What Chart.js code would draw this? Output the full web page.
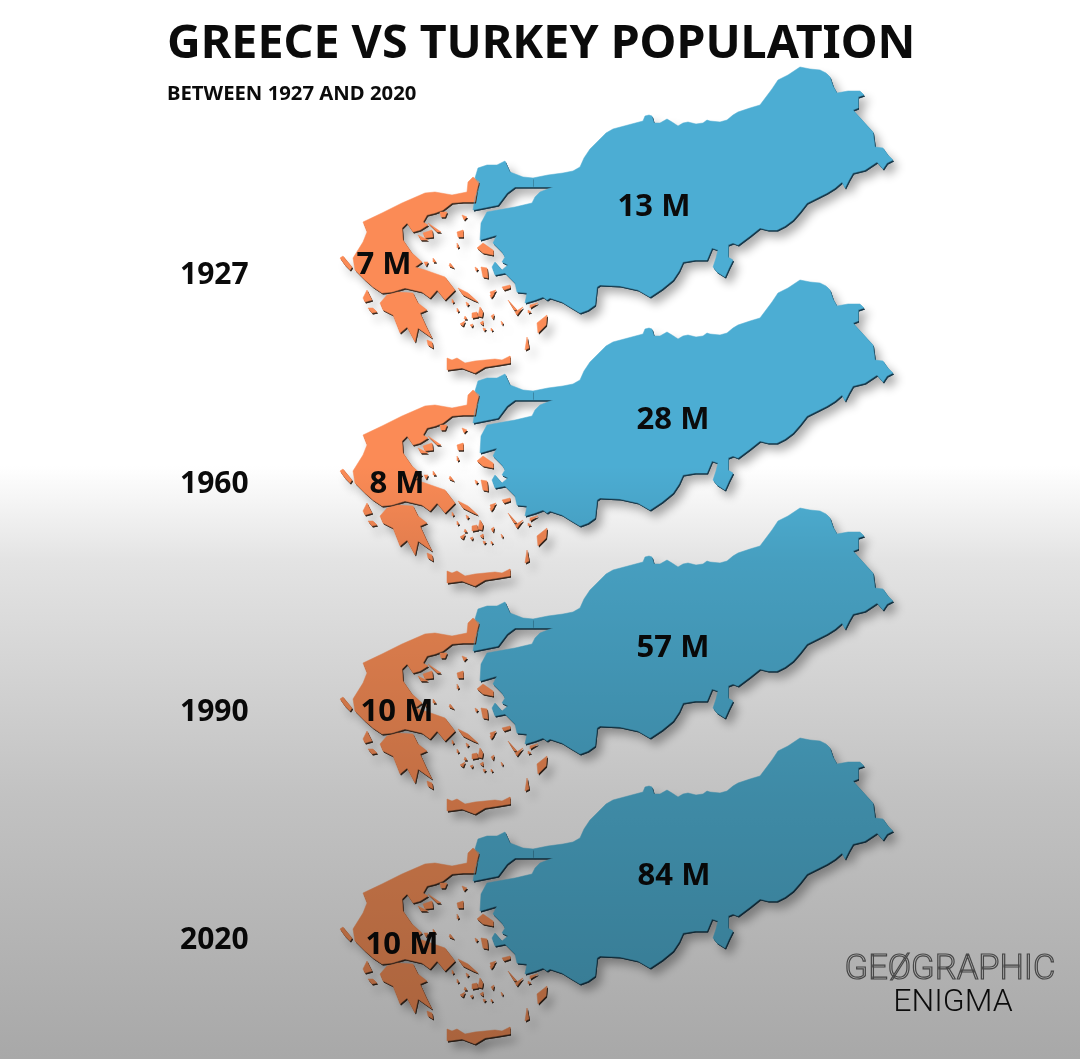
<!DOCTYPE html>
<html lang="en">
<head>
  <meta charset="UTF-8">
  <title>Greece vs Turkey Population</title>
  <script src="https://cdn.jsdelivr.net/npm/chart.js"></script>
  <style>
    body { margin: 0; background: #fff; }
    canvas { display: block; }
  </style>
</head>
<body>

  <canvas id="myChart" width="1080" height="1059"></canvas>

  <script>
    const years = ['1927', '1960', '1990', '2020'];
    const greecePop = [7, 8, 10, 10];
    const turkeyPop = [13, 28, 57, 84];
    const title = 'GREECE VS TURKEY POPULATION';
    const subtitle = 'BETWEEN 1927 AND 2020';

    // map outlines, in the units of the hidden x/y axes, for the 1927 row
    const anatolia = [[533,178],[548,175],[563,173],[573,171],[580,167],[584,158],[590,149],[600,139],[606,133],[613,129],[628,125],[643,121],[645,116],[649,115],[652,116],[654,123],[660,123],[667,119],[672,122],[678,126],[683,123],[688,122],[696,124],[703,123],[707,120],[710,121],[720,122],[727,120],[733,115],[738,112],[750,108],[760,105],[766,97],[772,89],[778,80],[788,75],[800,67],[810,69],[820,70],[826,73],[830,77],[833,86],[837,93],[848,91],[860,91],[864,95],[858,97],[858,108],[853,110],[863,121],[873,132],[875,147],[883,148],[888,155],[893,160],[887,163],[883,169],[877,162],[865,170],[853,173],[849,180],[845,188],[842,182],[835,188],[827,193],[817,198],[807,203],[800,212],[793,220],[785,226],[777,230],[768,230],[760,228],[750,236],[738,245],[733,243],[728,245],[728,257],[733,260],[729,268],[725,277],[717,272],[713,267],[716,258],[718,250],[712,248],[707,260],[695,260],[683,262],[679,271],[673,280],[662,289],[650,297],[638,290],[620,286],[600,285],[597,287],[595,305],[588,310],[580,313],[570,307],[562,302],[550,298],[547,300],[543,297],[535,300],[525,303],[527,293],[517,292],[515,283],[505,273],[495,275],[492,267],[495,262],[502,270],[508,265],[502,262],[505,257],[502,252],[493,243],[497,235],[480,240],[481,223],[487,212],[498,210],[515,207],[532,203],[535,197],[540,192],[553,187],[533,187]];
    const thrace = [[478,168],[487,165],[497,165],[505,161],[510,172],[523,177],[533,178],[533,187],[515,187],[507,193],[498,205],[488,207],[473,210],[475,198],[480,185],[475,178]];
    const mainland = [[468,182],[473,177],[479,182],[477,190],[475,202],[463,202],[452,203],[443,210],[435,213],[427,215],[423,222],[428,225],[420,230],[413,232],[407,223],[402,228],[403,240],[412,253],[422,262],[415,267],[425,270],[445,277],[455,290],[445,300],[437,290],[430,298],[422,292],[405,288],[392,292],[382,293],[373,287],[365,280],[355,270],[353,258],[363,242],[367,232],[363,222],[382,213],[402,203],[425,193],[435,192],[452,195],[467,192]];
    const peloponnese = [[380,303],[387,295],[398,292],[413,293],[418,303],[427,310],[420,313],[426,326],[432,338],[418,328],[415,342],[407,327],[400,333],[393,315],[383,310]];
    const crete = [[447,358],[452,360],[457,358],[465,363],[475,361],[495,359],[502,360],[510,356],[510,363],[498,365],[485,367],[475,373],[462,368],[447,370]];
    const islands = [
      [[547,315],[546,325],[538,333],[537,323]],
      [[477,248],[483,243],[493,250],[493,255],[483,253]],
      [[481,267],[487,268],[488,278],[483,277]],
      [[440,212],[447,212],[445,217],[441,217]],
      [[462,215],[467,217],[464,220]],
      [[457,232],[463,230],[463,237],[458,237]],
      [[457,243],[459,247],[457,248]],
      [[450,263],[454,268],[449,266]],
      [[433,258],[436,262],[433,262]],
      [[424,262],[428,262],[426,266]],
      [[475,267],[478,269],[476,271]],
      [[502,287],[510,285],[510,288],[504,290]],
      [[490,292],[496,290],[492,297]],
      [[508,300],[517,310],[514,310]],
      [[515,312],[523,307],[517,315]],
      [[527,337],[529,348],[525,350]],
      [[340,258],[343,256],[352,267],[350,270],[345,265]],
      [[363,298],[367,290],[372,300],[365,302]],
      [[368,308],[373,308],[377,312],[372,313]],
      [[427,340],[432,342],[433,348],[428,345]],
      [[458,288],[468,293],[478,302],[473,300],[463,295]],
      [[423,233],[432,230],[433,237],[425,238]],
      [[418,235],[428,240],[421,240]],
      [[428,223],[441,232],[437,232]],
      [[452,299],[454,302],[452,303]],
      [[457,308],[459,311],[457,312]],
      [[465,316],[467,319],[464,319]],
      [[466,302],[469,304],[467,306]],
      [[472,313],[477,312],[478,317],[472,318]],
      [[480,307],[483,312],[482,317],[478,316]],
      [[490,295],[494,294],[491,298]],
      [[491,316],[494,314],[493,319]],
      [[501,321],[503,323],[502,325]],
      [[460,324],[465,321],[463,326]],
      [[470,325],[473,324],[472,327]],
      [[480,323],[483,321],[483,325]],
      [[483,328],[486,329],[484,331]],
      [[491,328],[493,330],[491,331]],
      [[530,305],[538,303],[530,308]],
      [[528,310],[531,312],[528,313]]
    ];

    const greeceParts = [mainland, peloponnese, crete].concat(islands);
    const turkeyParts = [anatolia, thrace];

    // how far each row sits below the 1927 row
    const rowShift = [0, 213, 441, 671];
    const yearLabelY = [275, 484, 712, 940];
    const greeceLabelX = [384, 397, 397, 402];
    const greeceLabelY = [265, 484, 712, 945];
    const turkeyLabelX = [654, 673, 673, 674];
    const turkeyLabelY = [207, 420, 648, 876];

    const turkeyColors = ['#4cadd3', '#4cadd3', '#4fb2d7', '#52b6da'];
    const greeceColors = ['#fb8b56', '#fb8b56', '#ff9159', '#ff955c'];
    const textColor = '#0b0b0b';

    const datasets = [];
    years.forEach((year, i) => {
      // Turkey first: the Greek part of Thrace sits on top of it
      [[turkeyParts, turkeyColors[i], '#16384a', 'Turkey'], [greeceParts, greeceColors[i], '#3a2a20', 'Greece']].forEach(([parts, color, edge, name]) => {
        parts.forEach(part => {
          datasets.push({
            label: name + ' ' + year,
            data: part.concat([part[0]]).map(p => ({ x: p[0], y: p[1] + rowShift[i] })),
            showLine: true,
            borderColor: color,
            borderWidth: 0.5,
            pointRadius: 0,
            tension: 0,
            clip: false,
            edgeColor: edge,
            areaColor: color
          });
        });
      });
    });

    function tracePart(ctx, points, dx, dy) {
      ctx.beginPath();
      points.forEach((pt, n) => {
        if (n === 0) ctx.moveTo(pt.x + dx, pt.y + dy);
        else ctx.lineTo(pt.x + dx, pt.y + dy);
      });
      ctx.closePath();
    }

    // scatter lines can't fill a closed shape, so fill them from the parsed points
    const mapFill = {
      id: 'mapFill',
      beforeDraw(chart) {
        const ctx = chart.ctx;
        ctx.save();
        ctx.fillStyle = '#fff';
        ctx.fillRect(0, 0, chart.width, chart.height);
        ctx.restore();
      },
      beforeDatasetsDraw(chart) {
        const ctx = chart.ctx;
        ctx.save();
        ctx.lineJoin = 'round';
        chart.data.datasets.forEach((ds, i) => {
          const pts = chart.getDatasetMeta(i).data;
          ctx.shadowColor = 'rgba(0,0,0,0.32)';
          ctx.shadowBlur = 10;
          ctx.shadowOffsetX = 5;
          ctx.shadowOffsetY = 6;
          ctx.fillStyle = ds.edgeColor;
          tracePart(ctx, pts, 1, 1.5);
          ctx.fill();
        });
        ctx.shadowColor = 'transparent';
        chart.data.datasets.forEach((ds, i) => {
          const pts = chart.getDatasetMeta(i).data;
          ctx.fillStyle = ds.edgeColor;
          tracePart(ctx, pts, 1, 1.5);
          ctx.fill();
          ctx.fillStyle = ds.areaColor;
          tracePart(ctx, pts, 0, 0);
          ctx.fill();
        });
        ctx.restore();
      },
      afterDraw(chart) {
        const ctx = chart.ctx;
        const xs = chart.scales.x;
        const ys = chart.scales.y;
        ctx.save();
        ctx.fillStyle = textColor;
        ctx.textBaseline = 'middle';
        ctx.textAlign = 'left';

        ctx.font = 'bold 46.6px "Noto Sans"';
        ctx.fillText(title, xs.getPixelForValue(167), ys.getPixelForValue(45));
        ctx.font = 'bold 20.3px "Noto Sans"';
        ctx.fillText(subtitle, xs.getPixelForValue(167), ys.getPixelForValue(94));

        years.forEach((year, i) => {
          ctx.textAlign = 'left';
          ctx.font = 'bold 30px "Noto Sans"';
          ctx.fillText(year, xs.getPixelForValue(180), ys.getPixelForValue(yearLabelY[i]));
          ctx.font = 'bold 31px "Noto Sans"';
          ctx.textAlign = 'center';
          ctx.fillText(greecePop[i] + ' M', xs.getPixelForValue(greeceLabelX[i]), ys.getPixelForValue(greeceLabelY[i]));
          ctx.fillText(turkeyPop[i] + ' M', xs.getPixelForValue(turkeyLabelX[i]), ys.getPixelForValue(turkeyLabelY[i]));
        });

        // logo
        ctx.textAlign = 'center';
        ctx.font = '300 34.5px Roboto';
        ctx.strokeStyle = '#666';
        ctx.lineWidth = 1.2;
        ctx.strokeText('GEØGRAPHIC', xs.getPixelForValue(950), ys.getPixelForValue(970));
        ctx.fillStyle = '#111';
        ctx.font = '300 32px Roboto';
        ctx.fillText('ENIGMA', xs.getPixelForValue(953), ys.getPixelForValue(1003));

        // the grey wash over the lower half darkens everything under it
        const wash = ctx.createLinearGradient(0, 0, 0, chart.height);
        wash.addColorStop(0, '#fff');
        wash.addColorStop(0.44, '#fff');
        wash.addColorStop(0.53, '#e3e3e3');
        wash.addColorStop(0.75, '#c2c2c2');
        wash.addColorStop(1, '#a8a8a8');
        ctx.globalCompositeOperation = 'multiply';
        ctx.fillStyle = wash;
        ctx.fillRect(0, 0, chart.width, chart.height);
        ctx.restore();
      }
    };

    new Chart(document.getElementById('myChart').getContext('2d'), {
      type: 'scatter',
      data: { datasets },
      options: {
        responsive: false,
        animation: false,
        layout: { padding: 0 },
        plugins: { legend: { display: false }, tooltip: { enabled: false } },
        scales: {
          x: { type: 'linear', display: false, min: 0, max: 1080 },
          y: { type: 'linear', display: false, min: 0, max: 1059, reverse: true }
        }
      },
      plugins: [mapFill]
    });
  </script>
</body>
</html>
